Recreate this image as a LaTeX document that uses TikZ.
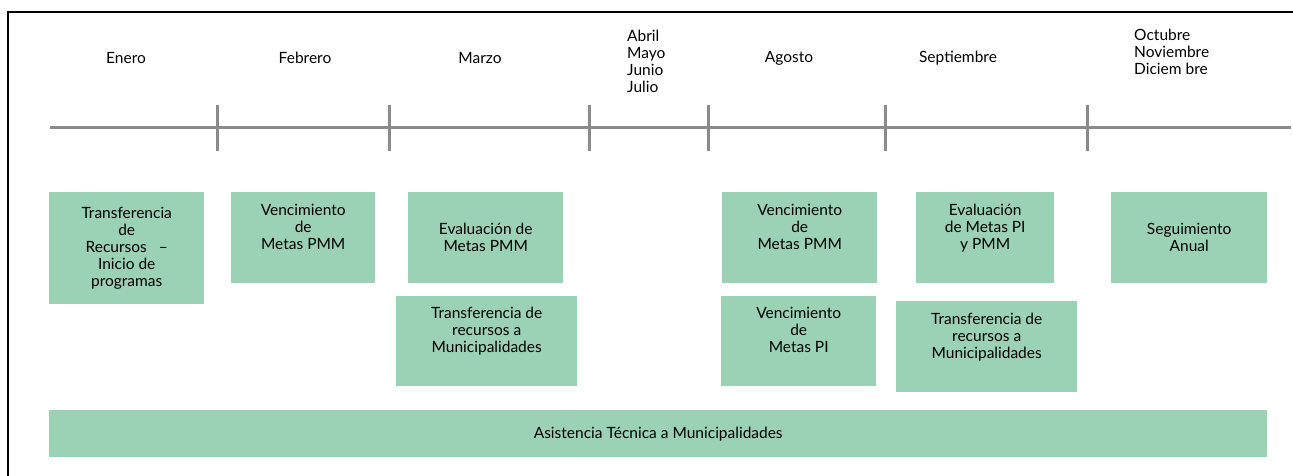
\documentclass[tikz,border=0pt]{standalone}
\usepackage{fontspec}
\setmainfont{Lato}
\definecolor{verdecaja}{RGB}{155,209,181}
\definecolor{grislinea}{RGB}{138,138,138}
\begin{document}
\begin{tikzpicture}[x=1pt, y=-1pt,
  mes/.style={font=\fontsize{15.5}{17}\selectfont, align=left, inner sep=0pt},
  caja/.style={fill=verdecaja, anchor=north west, align=center, inner sep=0pt,
    font=\fontsize{15.5}{17}\selectfont},
  marca/.style={grislinea, line width=3pt}] % {{{
\pgfmathsetmacro{\marcaarriba}{105}
\pgfmathsetmacro{\marcaabajo}{151}
\useasboundingbox (0,0) rectangle (1293,475);
% Marco   {{{
\draw[line width=2pt] (8,476) -- (8,12) -- (1294,12);
% }}}
% Linea de tiempo   {{{
\draw[marca] (50,127) -- (1291,127);
\draw[marca] (217,\marcaarriba) -- (217,\marcaabajo);
\draw[marca] (389,\marcaarriba) -- (389,\marcaabajo);
\draw[marca] (589,\marcaarriba) -- (589,\marcaabajo);
\draw[marca] (708,\marcaarriba) -- (708,\marcaabajo);
\draw[marca] (885,\marcaarriba) -- (885,\marcaabajo);
\draw[marca] (1087,\marcaarriba) -- (1087,\marcaabajo);
% }}}
% Meses   {{{
\node[mes] (enero) at (126,58) {Enero};
\node[mes] (febrero) at (305,58) {Febrero};
\node[mes] (marzo) at (480,58) {Marzo};
\node[mes, anchor=west] (abriljulio) at (627,61.5) {Abril\\Mayo\\Junio\\Julio};
\node[mes] (agosto) at (789,58) {Agosto};
\node[mes] (septiembre) at (958,58) {Septiembre};
\node[mes, anchor=west] (octdic) at (1134,52) {Octubre\\Noviembre\\Diciem bre};
% }}}
% Actividades   {{{
\node[caja, minimum width=155, minimum height=112] (transenero) at (49,192)
  {Transferencia\\de\\Recursos\ \ \ --\\Inicio de\\programas};
\node[caja, minimum width=144, minimum height=91] (vencfeb) at (231,192)
  {Vencimiento\\de\\Metas PMM\\ \strut};
\node[caja, minimum width=155, minimum height=91] (evalmarzo) at (408,192)
  {Evaluación de\\Metas PMM};
\node[caja, minimum width=181, minimum height=90] (transmarzo) at (396,296)
  {Transferencia de\\recursos a\\Municipalidades\\ \strut};
\node[caja, minimum width=155, minimum height=91] (vencpmm) at (722,192)
  {Vencimiento\\de\\Metas PMM\\ \strut};
\node[caja, minimum width=155, minimum height=90] (vencpi) at (721,296)
  {Vencimiento\\de\\Metas PI\\ \strut};
\node[caja, minimum width=138, minimum height=91] (evalsept) at (916,192)
  {Evaluación\\de Metas PI\\y PMM\\ \strut};
\node[caja, minimum width=181, minimum height=91] (transsept) at (896,301)
  {Transferencia de\\recursos a\\Municipalidades\\ \strut};
\node[caja, minimum width=156, minimum height=91] (seguimiento) at (1111,192)
  {Seguimiento\\Anual};
\node[caja, minimum width=1218, minimum height=47] (asistencia) at (49,410)
  {Asistencia Técnica a Municipalidades};
% }}}
\end{tikzpicture} % }}}
\end{document}
